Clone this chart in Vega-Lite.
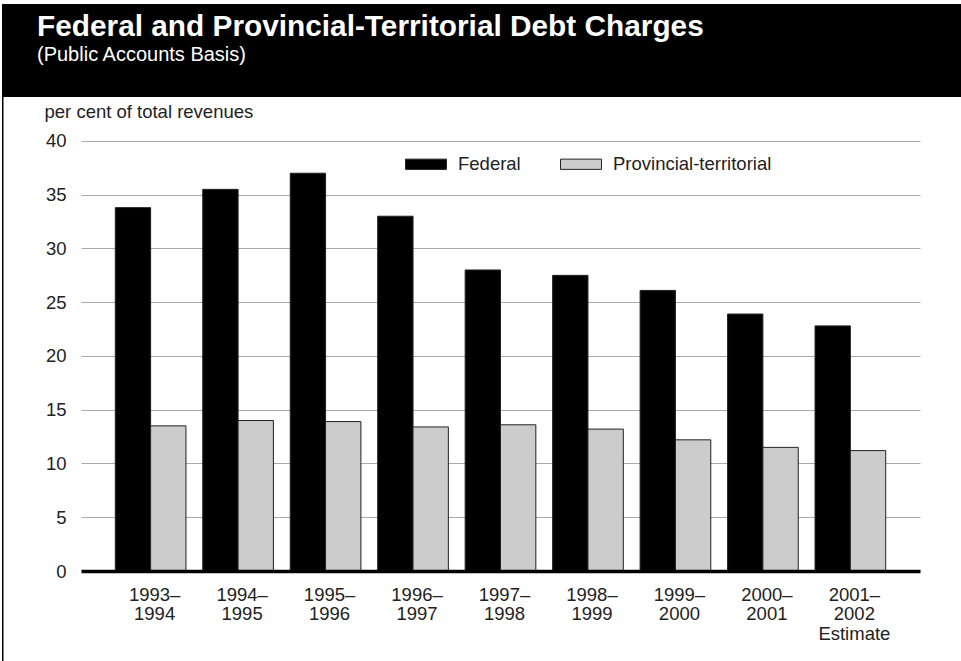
{
  "$schema": "https://vega.github.io/schema/vega-lite/v6.json",
  "background": "white",
  "padding": {"left": 2, "top": 4, "right": 0, "bottom": 0},
  "spacing": 0,
  "config": {
    "font": "Liberation Sans",
    "view": {"stroke": null}
  },
  "data": {
    "values": [
      {"period": "1993–1994", "series": "Federal", "value": 33.8},
      {"period": "1994–1995", "series": "Federal", "value": 35.5},
      {"period": "1995–1996", "series": "Federal", "value": 37.0},
      {"period": "1996–1997", "series": "Federal", "value": 33.0},
      {"period": "1997–1998", "series": "Federal", "value": 28.0},
      {"period": "1998–1999", "series": "Federal", "value": 27.5},
      {"period": "1999–2000", "series": "Federal", "value": 26.1},
      {"period": "2000–2001", "series": "Federal", "value": 23.9},
      {"period": "2001–2002", "series": "Federal", "value": 22.8},
      {"period": "1993–1994", "series": "Provincial-territorial", "value": 13.5},
      {"period": "1994–1995", "series": "Provincial-territorial", "value": 14.0},
      {"period": "1995–1996", "series": "Provincial-territorial", "value": 13.9},
      {"period": "1996–1997", "series": "Provincial-territorial", "value": 13.4},
      {"period": "1997–1998", "series": "Provincial-territorial", "value": 13.6},
      {"period": "1998–1999", "series": "Provincial-territorial", "value": 13.2},
      {"period": "1999–2000", "series": "Provincial-territorial", "value": 12.2},
      {"period": "2000–2001", "series": "Provincial-territorial", "value": 11.5},
      {"period": "2001–2002", "series": "Provincial-territorial", "value": 11.2}
    ]
  },
  "vconcat": [
    {
      "width": 959,
      "height": 93,
      "view": {"fill": "black", "stroke": null},
      "mark": {"type": "rect", "opacity": 0},
      "encoding": {},
      "title": {
        "text": "Federal and Provincial-Territorial Debt Charges",
        "subtitle": "(Public Accounts Basis)",
        "anchor": "start",
        "orient": "top",
        "frame": "group",
        "offset": -61,
        "dx": 35,
        "color": "white",
        "subtitleColor": "white",
        "font": "Liberation Sans",
        "subtitleFont": "Liberation Sans",
        "fontSize": 29.8,
        "fontWeight": "bold",
        "subtitleFontSize": 20,
        "subtitlePadding": 3
      }
    },
    {
      "spacing": 40,
      "hconcat": [
        {
          "width": 1.5,
          "height": 564,
          "view": {"fill": "black", "stroke": null},
          "mark": {"type": "rect", "opacity": 0},
          "encoding": {}
        },
        {
          "width": 839,
          "height": 474,
          "mark": {"type": "bar", "stroke": "#222222", "strokeWidth": 1},
          "encoding": {
            "x": {
              "field": "period",
              "type": "nominal",
              "sort": null,
              "scale": {"paddingInner": 0.192, "paddingOuter": 0.392},
              "axis": {
                "title": null,
                "labelAngle": 0,
                "ticks": false,
                "tickSize": 0,
                "domain": true,
                "domainColor": "black",
                "domainWidth": 3.5,
                "zindex": 1,
                "labelFont": "Liberation Sans",
                "labelFontSize": 18.5,
                "labelColor": "#222222",
                "labelLineHeight": 19.5,
                "labelAlign": "center",
                "labelBaseline": "top",
                "labelOffset": 4,
                "labelPadding": 14,
                "labelExpr": "datum.value == '2001–2002' ? ['2001–', '2002', 'Estimate'] : [substring(datum.value, 0, 5), substring(datum.value, 5)]"
              }
            },
            "xOffset": {
              "field": "series",
              "type": "nominal",
              "sort": ["Federal", "Provincial-territorial"]
            },
            "y": {
              "field": "value",
              "type": "quantitative",
              "scale": {"domain": [0, 44.09], "nice": false},
              "axis": {
                "title": "per cent of total revenues",
                "titleAngle": 0,
                "titleAlign": "left",
                "titleBaseline": "alphabetic",
                "titleX": -37,
                "titleY": 20.7,
                "titleFont": "Liberation Sans",
                "titleFontSize": 18.5,
                "titleFontWeight": "normal",
                "titleColor": "#222222",
                "values": [0, 5, 10, 15, 20, 25, 30, 35, 40],
                "domain": false,
                "ticks": false,
                "grid": true,
                "gridColor": "#aaaaaa",
                "gridWidth": 1,
                "labelFont": "Liberation Sans",
                "labelFontSize": 18.5,
                "labelColor": "#222222",
                "labelPadding": 15
              }
            },
            "color": {
              "field": "series",
              "type": "nominal",
              "sort": ["Federal", "Provincial-territorial"],
              "scale": {"range": ["#000000", "#cccccc"]},
              "legend": {
                "title": null,
                "orient": "none",
                "direction": "horizontal",
                "legendX": 403,
                "legendY": 139,
                "padding": 0,
                "symbolType": "M-1,-0.25H1V0.25H-1Z",
                "symbolSize": 1681,
                "symbolStrokeColor": "#222222",
                "symbolStrokeWidth": 1,
                "symbolOpacity": 1,
                "labelFont": "Liberation Sans",
                "labelFontSize": 18.5,
                "labelColor": "#222222",
                "labelOffset": 11,
                "columnPadding": 37
              }
            }
          }
        }
      ]
    }
  ]
}
